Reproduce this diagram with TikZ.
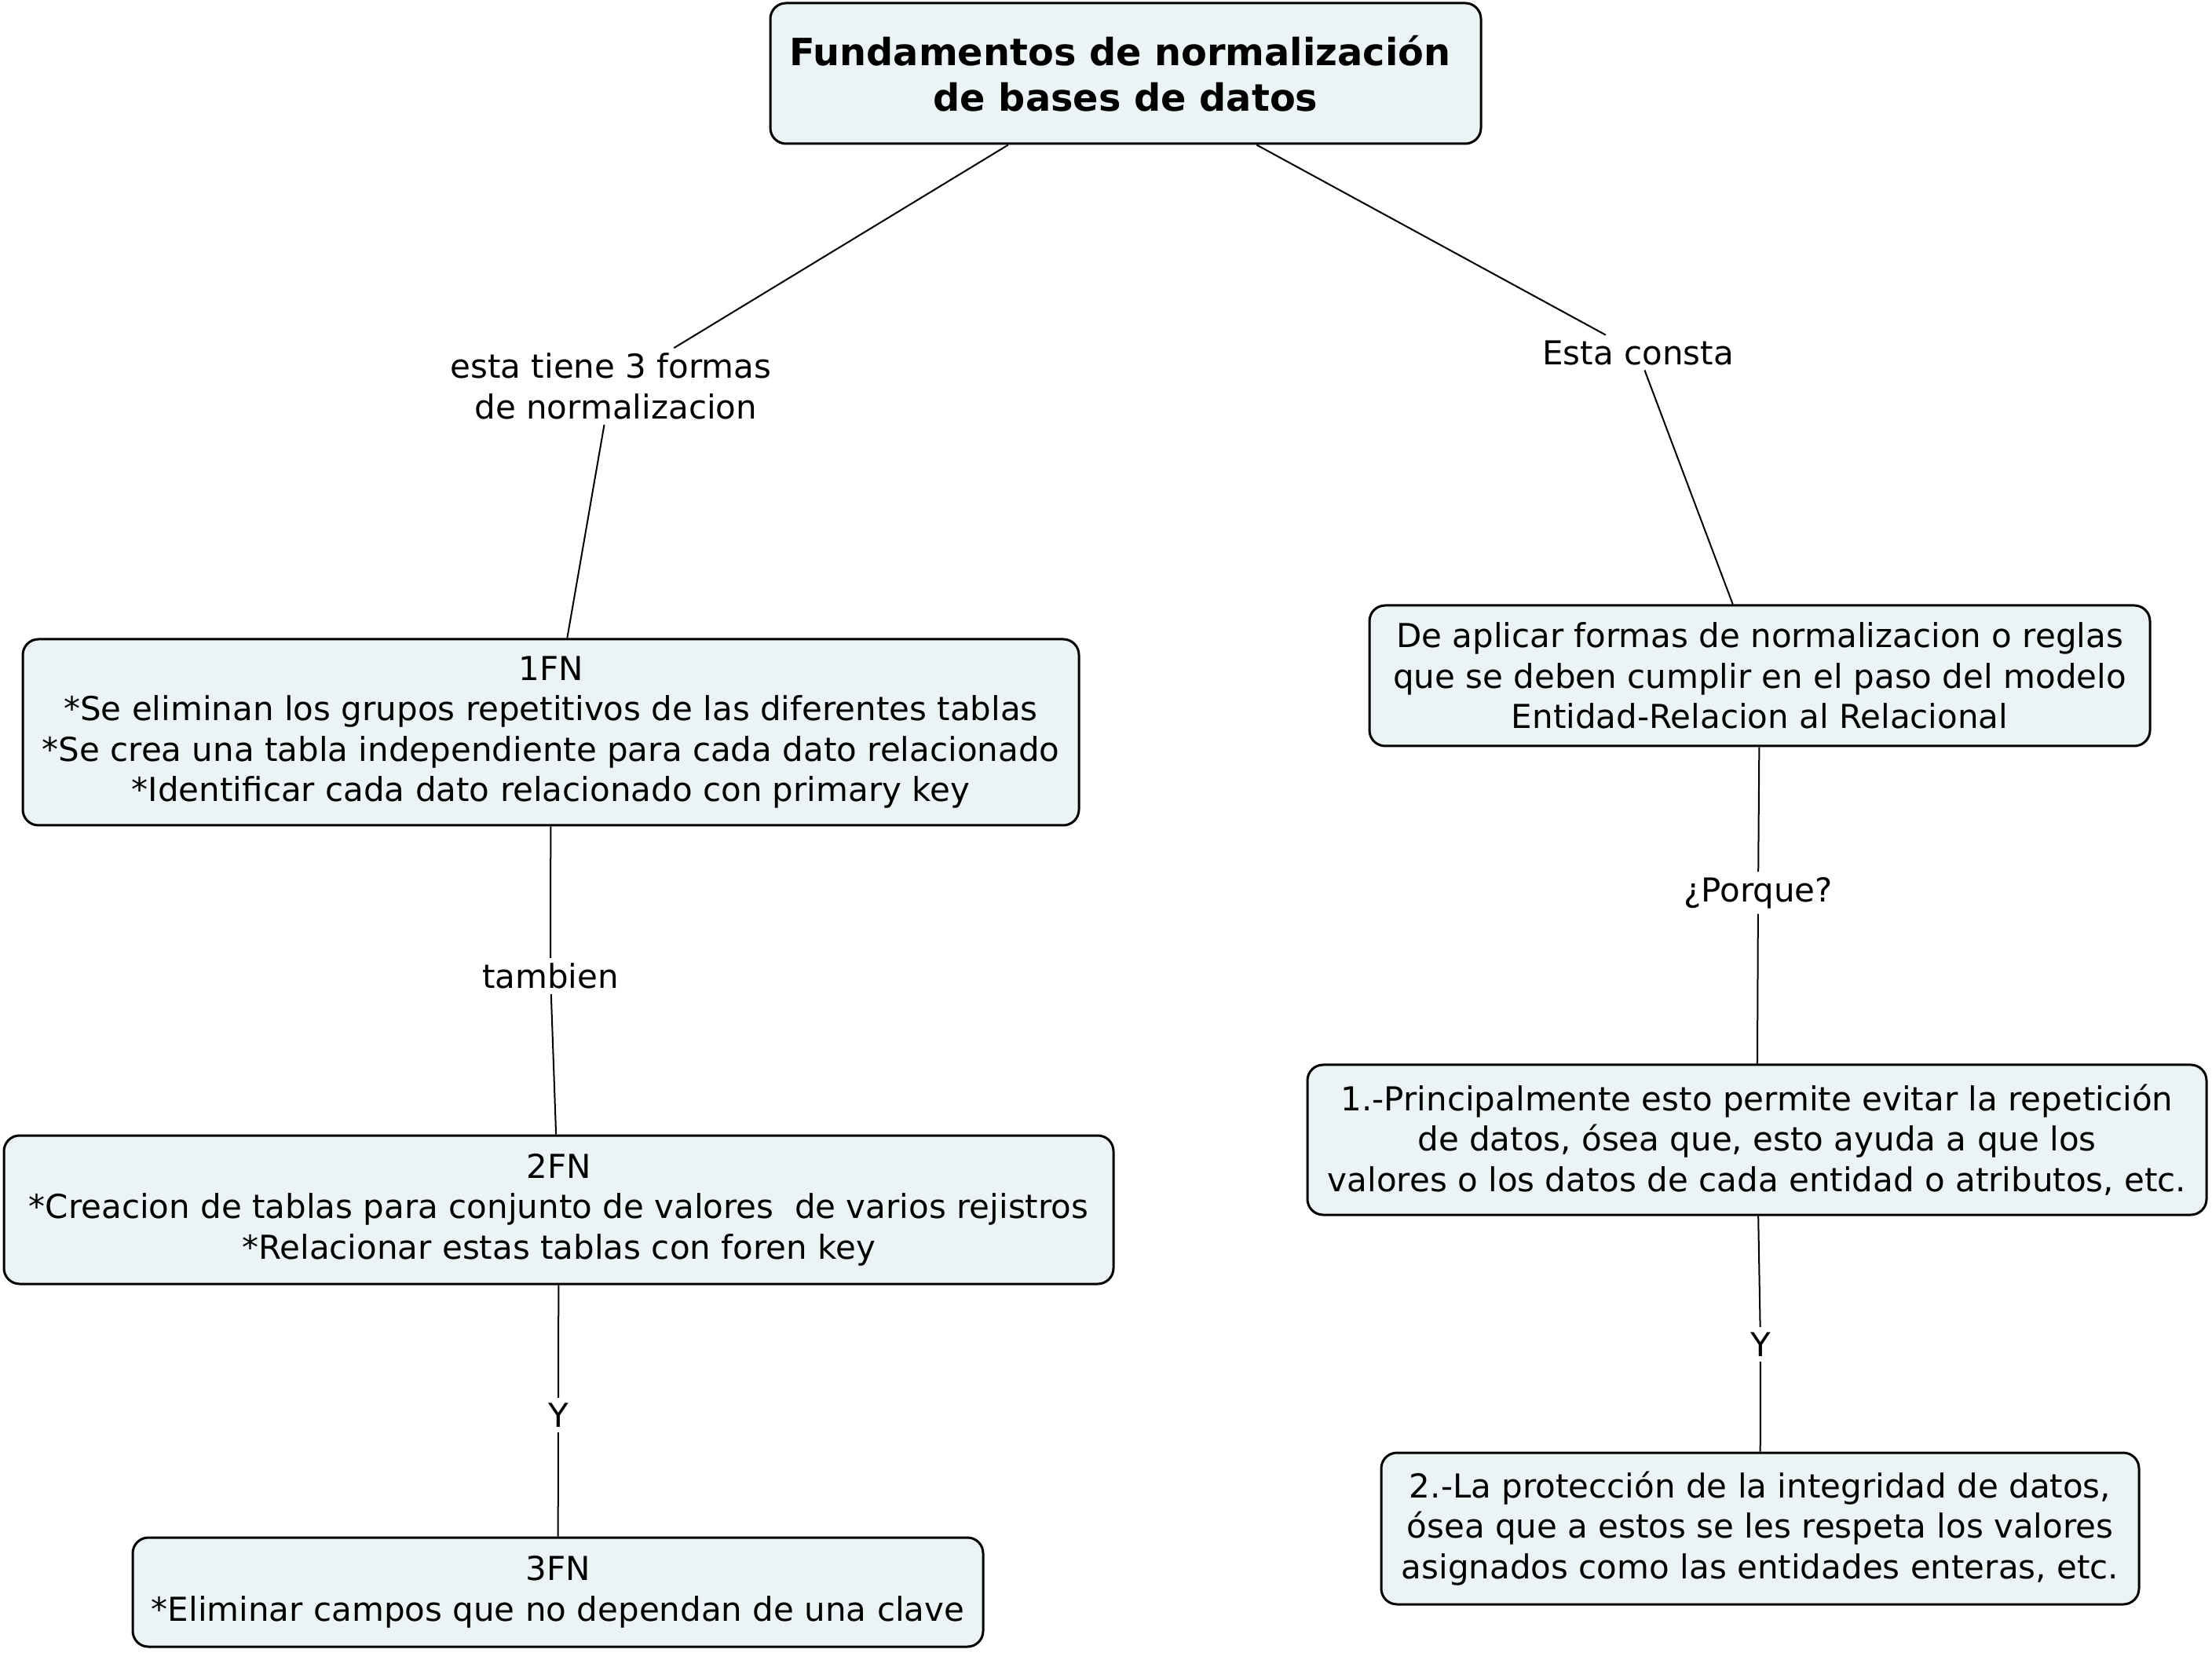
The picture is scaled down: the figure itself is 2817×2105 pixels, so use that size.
\documentclass[tikz,border=0pt]{standalone}
\usepackage{fontspec}
\setmainfont{DejaVu Sans}
\definecolor{boxfill}{RGB}{236,243,245}
\tikzset{
  cbox/.style={draw=black, line width=0.75pt, rounded corners=5pt, fill=boxfill,
    align=center, inner sep=0pt, font=\fontsize{10.5}{12.9}\selectfont},
  lab/.style={align=center, inner sep=1.5pt, font=\fontsize{10.5}{12.9}\selectfont},
  conn/.style={line width=0.5pt, draw=black}
}
\begin{document}
\begin{tikzpicture}[x=0.25pt, y=-0.25pt]
\useasboundingbox (0,0) rectangle (2817,2105);
% boxes
\node[cbox, minimum width=905*0.25pt, minimum height=179*0.25pt,
  font=\fontsize{11.95}{14.4}\selectfont\bfseries] (title) at (1433.5,93.5)
  {Fundamentos de normalización\hspace*{0.3em}\\de bases de datos};
\node[cbox, minimum width=1345*0.25pt, minimum height=237*0.25pt] (fn1) at (701.5,932.5)
  {1FN\\*Se eliminan los grupos repetitivos de las diferentes tablas\\*Se crea una tabla independiente para cada dato relacionado\\*Identificar cada dato relacionado con primary key};
\node[cbox, minimum width=1413*0.25pt, minimum height=189*0.25pt] (fn2) at (711.5,1540.5)
  {2FN\\*Creacion de tablas para conjunto de valores\ \ de varios rejistros\\*Relacionar estas tablas con foren key};
\node[cbox, minimum width=1083*0.25pt, minimum height=139*0.25pt] (fn3) at (710.5,2027.5)
  {3FN\\*Eliminar campos que no dependan de una clave};
\node[cbox, minimum width=994*0.25pt, minimum height=179*0.25pt] (apl) at (2241,860.5)
  {De aplicar formas de normalizacion o reglas\\que se deben cumplir en el paso del modelo\hspace*{0.3em}\\Entidad-Relacion al Relacional};
\node[cbox, minimum width=1145*0.25pt, minimum height=191*0.25pt] (r1) at (2237.5,1451.5)
  {1.-Principalmente esto permite evitar la repetición\\de datos, ósea que, esto ayuda a que los\\valores o los datos de cada entidad o atributos, etc.};
\node[cbox, minimum width=965*0.25pt, minimum height=193*0.25pt] (r2) at (2241.5,1946.5)
  {2.-La protección de la integridad de datos,\\ósea que a estos se les respeta los valores\\asignados como las entidades enteras, etc.};
% labels
\node[lab] (l1) at (778,492) {esta tiene 3 formas\\\hspace*{0.3em}de normalizacion};
\node[lab] (l2) at (2086,449) {Esta consta};
\node[lab] (l3) at (701,1243) {tambien};
\node[lab] (l4) at (711,1802) {Y};
\node[lab] (l5) at (2239,1137) {¿Porque?};
\node[lab] (l6) at (2242,1712) {Y};
% connectors
\draw[conn] (title) -- (l1) -- (fn1);
\draw[conn] (title) -- (l2) -- (apl);
\draw[conn] (fn1) -- (l3) -- (fn2);
\draw[conn] (fn2) -- (l4) -- (fn3);
\draw[conn] (apl) -- (l5) -- (r1);
\draw[conn] (r1) -- (l6) -- (r2);
\end{tikzpicture}
\end{document}
